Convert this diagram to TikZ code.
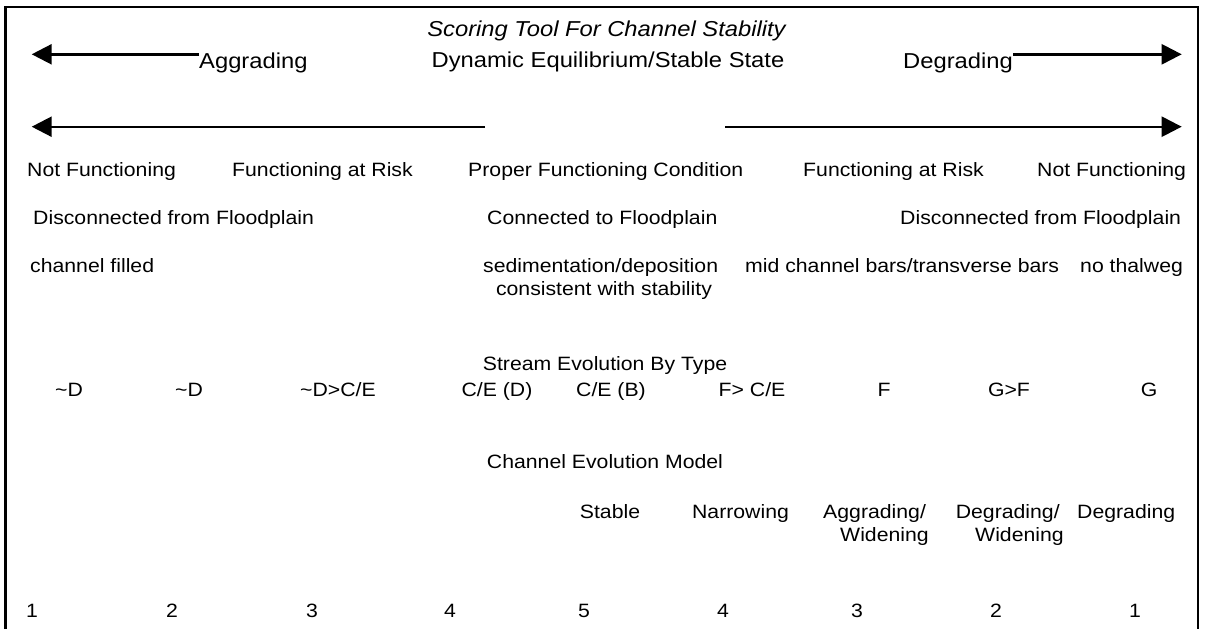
\documentclass[tikz,border=0pt]{standalone}
\usepackage{fontspec}
\setmainfont{Liberation Sans}
\usetikzlibrary{arrows.meta}

\tikzset{
  txt/.style={inner sep=0pt,anchor=base west,xscale=1.1,
              font=\fontsize{19.3}{23}\selectfont},
  big/.style={txt,font=\fontsize{21.6}{26}\selectfont},
  mid/.style={txt,anchor=base},
  arr/.style={line width=2.4pt,-{Triangle[length=20pt,width=20pt]}}
}

\begin{document}
\begin{tikzpicture}[x=1pt,y=-1pt]
  \useasboundingbox (0,0) rectangle (1206,629);

  % --- Frame ---
  \draw[line width=2.6pt] (5.5,629) -- (5.5,7) -- (1198,7) -- (1198,629);

  % --- Parameters ---
  \def\ytop{54.3}
  \def\ymid{126.7}
  \def\xtipL{31.7}
  \def\xtipR{1181.7}

  % --- Heading ---
  \node[big,anchor=base,font=\fontsize{21.6}{26}\selectfont\itshape] (title)
       at (606.5,36.5) {Scoring Tool For Channel Stability};
  \node[big,anchor=base] (dyn) at (608,67) {Dynamic Equilibrium/Stable State};
  \node[big] (aggr) at (199,68) {Aggrading};
  \node[big] (degr) at (903,68) {Degrading};

  % --- Arrows ---
  \coordinate (tipTL) at (\xtipL,\ytop);
  \coordinate (tipTR) at (\xtipR,\ytop);
  \coordinate (tipML) at (\xtipL,\ymid);
  \coordinate (tipMR) at (\xtipR,\ymid);
  \coordinate (gapL) at (485,\ymid);
  \coordinate (gapR) at (725,\ymid);
  \draw[arr] (aggr.west |- tipTL) -- (tipTL);
  \draw[arr] (degr.east |- tipTR) -- (tipTR);
  \draw[arr] (gapL) -- (tipML);
  \draw[arr] (gapR) -- (tipMR);

  % --- Condition ---
  \node[txt] (nf1) at (27,176) {Not Functioning};
  \node[txt] (far1) at (232,176) {Functioning at Risk};
  \node[txt] (pfc) at (468,176) {Proper Functioning Condition};
  \node[txt] (far2) at (803,176) {Functioning at Risk};
  \node[txt] (nf2) at (1037,176) {Not Functioning};

  % --- Floodplain ---
  \node[txt] (dis1) at (33,224) {Disconnected from Floodplain};
  \node[txt] (con) at (487,224) {Connected to Floodplain};
  \node[txt] (dis2) at (900,224) {Disconnected from Floodplain};

  % --- Sediment ---
  \node[txt] (fill) at (30,272) {channel filled};
  \node[txt] (sed) at (483,272) {sedimentation/deposition};
  \node[mid] (cons) at (604,295) {consistent with stability};
  \node[txt] (bars) at (745,272) {mid channel bars/transverse bars};
  \node[txt] (thal) at (1080,272) {no thalweg};

  % --- Stream types ---
  \node[mid] (sebt) at (605,370) {Stream Evolution By Type};
  \node[mid] (t1) at (69,396) {\char`\~D};
  \node[mid] (t2) at (189,396) {\char`\~D};
  \node[mid] (t3) at (338,396) {\char`\~D>C/E};
  \node[mid] (t4) at (497,396) {C/E (D)};
  \node[mid] (t5) at (611,396) {C/E (B)};
  \node[mid] (t6) at (752,396) {F> C/E};
  \node[mid] (t7) at (884,396) {F};
  \node[mid] (t8) at (1009,396) {G>F};
  \node[mid] (t9) at (1149,396) {G};

  % --- Channel evolution ---
  \node[mid] (cem) at (605,468) {Channel Evolution Model};
  \node[mid] (stab) at (610,518) {Stable};
  \node[mid] (narr) at (740.5,518) {Narrowing};
  \node[txt] (aggw) at (823,518) {Aggrading/};
  \node[txt] (aggw2) at (840,541) {Widening};
  \node[txt] (degw) at (955.6,518) {Degrading/};
  \node[txt] (degw2) at (975,541) {Widening};
  \node[txt] (degc) at (1077,518) {Degrading};

  % --- Scores ---
  \node[mid] (s1) at (32,617) {1};
  \node[mid] (s2) at (172,617) {2};
  \node[mid] (s3) at (312,617) {3};
  \node[mid] (s4) at (450,617) {4};
  \node[mid] (s5) at (584,617) {5};
  \node[mid] (s6) at (723,617) {4};
  \node[mid] (s7) at (857,617) {3};
  \node[mid] (s8) at (996,617) {2};
  \node[mid] (s9) at (1135,617) {1};
\end{tikzpicture}
\end{document}
